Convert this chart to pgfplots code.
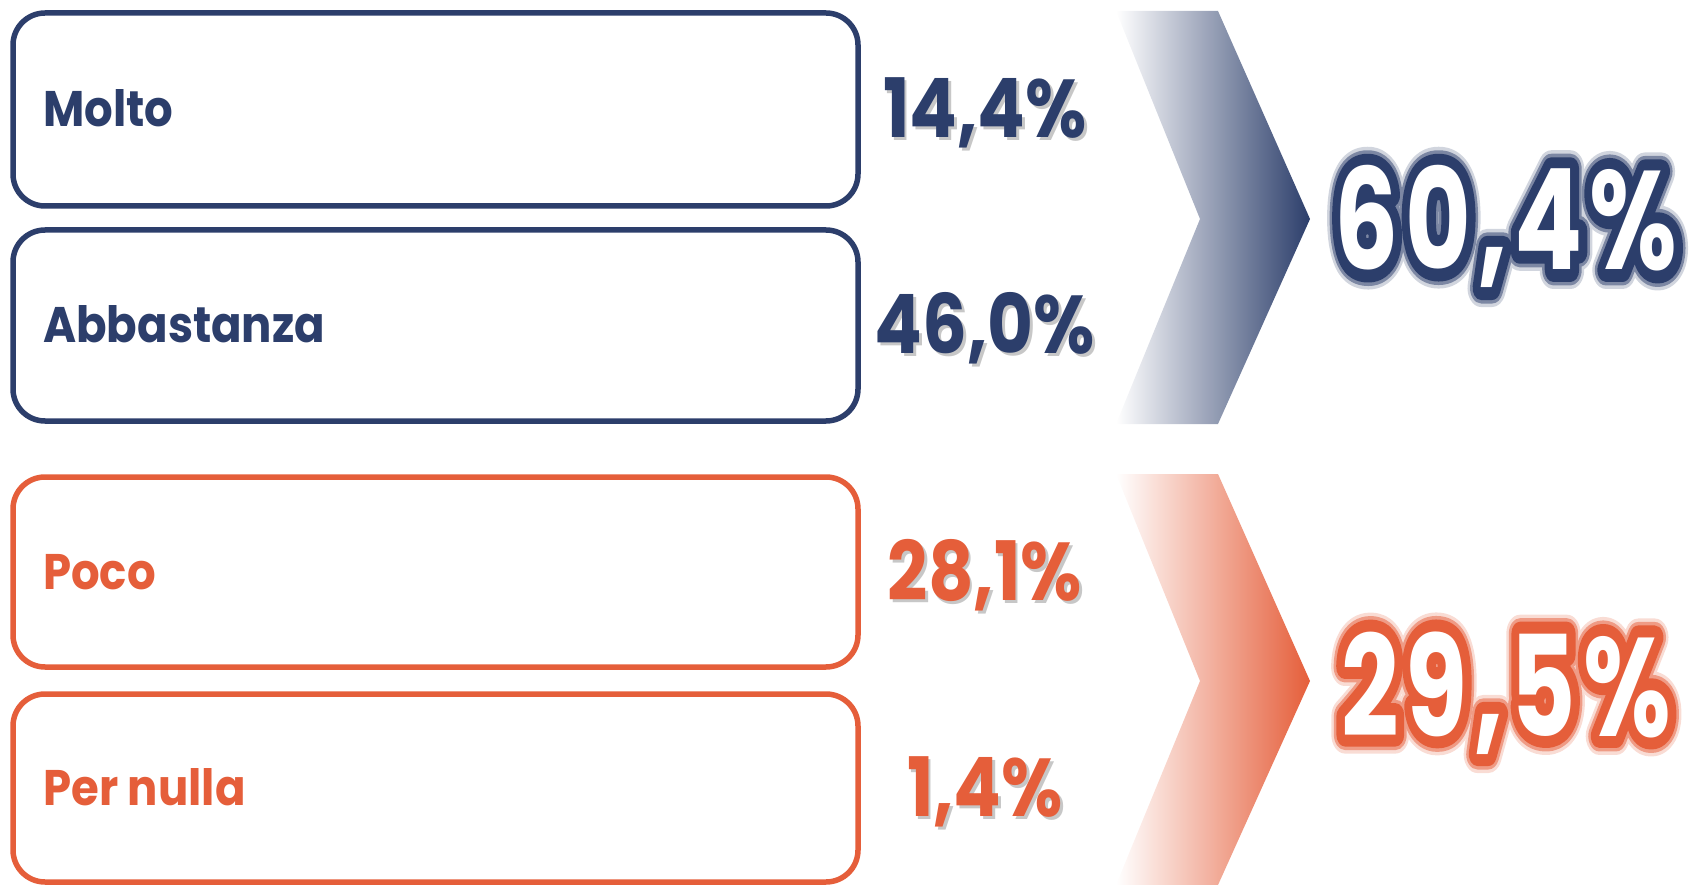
\documentclass[border=0pt]{standalone}
\usepackage{pgfplots}
\pgfplotsset{compat=1.18}
\usepackage{pgfplotstable}
\usepackage{graphicx}
\usepackage{fontspec}
\setmainfont{Poppins}
\newfontfamily\glowA{Poppins}[FakeBold=27]
\newfontfamily\glowB{Poppins}[FakeBold=22]
\newfontfamily\glowC{Poppins}[FakeBold=17]
\definecolor{navy}{HTML}{2C3E6B}
\definecolor{orng}{HTML}{E55E3A}

\pgfplotstableread[col sep=comma]{
y,val,lab
109.5,14.4,Molto
325.5,46.0,Abbastanza
}\topitems
\pgfplotstableread[col sep=comma]{
y,val,lab
572,28.1,Poco
788,1.4,Per nulla
}\botitems

\newcommand\shadowtext[2]{\rlap{\kern3pt\raisebox{-3pt}{\color{black!22}#2}}{\color{#1}#2}}
\newcommand\ls{\bfseries\addfontfeature{LetterSpace=7}}
\newcommand\glowtext[2]{%
  \special{pdf:code 1 j 1 J}%
  \rlap{\glowA\ls\color{#1!22!white}#2}%
  \rlap{\glowB\ls\color{#1!62!white}#2}%
  \rlap{\glowC\ls\color{#1}#2}%
  {\ls\color{white}#2}}
\newcommand\pct{\pgfmathprintnumber[fixed,fixed zerofill,precision=1,use comma,assume math mode=true]{\pgfplotspointmeta}\%}

\begin{document}
\begin{tikzpicture}
\begin{axis}[
  x=1pt, y=1pt, xmin=0, xmax=1690, ymin=0, ymax=885, y dir=reverse,
  hide axis, clip=false, scale only axis, enlargelimits=false]
\path (axis cs:0,0) (axis cs:1690,885);
% chevrons
\shade[left color=white, middle color=navy!22!white, right color=navy]
  (axis cs:1116,11) -- (axis cs:1218,11) -- (axis cs:1310,219) -- (axis cs:1218,424)
  -- (axis cs:1116,424) -- (axis cs:1200,219) -- cycle;
\shade[left color=white, middle color=orng!28!white, right color=orng]
  (axis cs:1116,474) -- (axis cs:1218,474) -- (axis cs:1310,681) -- (axis cs:1218,885)
  -- (axis cs:1116,885) -- (axis cs:1200,681) -- cycle;
% boxes
\draw[navy, line width=5.5pt, rounded corners=32pt] (axis cs:13,13) rectangle (axis cs:858,206);
\draw[navy, line width=5.5pt, rounded corners=32pt] (axis cs:13,230) rectangle (axis cs:858,421);
\draw[orng, line width=5.5pt, rounded corners=32pt] (axis cs:13,477) rectangle (axis cs:858,667);
\draw[orng, line width=5.5pt, rounded corners=32pt] (axis cs:13,694) rectangle (axis cs:858,882);
% labels
\addplot[draw=none, mark=none, point meta=explicit symbolic,
  nodes near coords={\scalebox{0.9}[1]{\pgfplotspointmeta}},
  nodes near coords style={anchor=base west, inner sep=0pt, text=navy,
    font=\fontsize{50}{50}\selectfont\bfseries}]
  table[x expr=43, y expr=\thisrow{y}+17.5, meta=lab]{\topitems};
\addplot[draw=none, mark=none, point meta=explicit symbolic,
  nodes near coords={\scalebox{0.9}[1]{\pgfplotspointmeta}},
  nodes near coords style={anchor=base west, inner sep=0pt, text=orng,
    font=\fontsize{50}{50}\selectfont\bfseries}]
  table[x expr=43, y expr=\thisrow{y}+17.5, meta=lab]{\botitems};
% values
\addplot[draw=none, mark=none, point meta=explicit,
  nodes near coords={\scalebox{0.86}[1]{\shadowtext{navy}{\pct}}},
  nodes near coords style={anchor=base, inner sep=0pt,
    font=\fontsize{82}{82}\selectfont\bfseries}]
  table[x expr=985, y expr=\thisrow{y}+28.5, meta=val]{\topitems};
\addplot[draw=none, mark=none, point meta=explicit,
  nodes near coords={\scalebox{0.86}[1]{\shadowtext{orng}{\pct}}},
  nodes near coords style={anchor=base, inner sep=0pt,
    font=\fontsize{82}{82}\selectfont\bfseries}]
  table[x expr=985, y expr=\thisrow{y}+28.5, meta=val]{\botitems};
% totals
\addplot[draw=none, mark=none, point meta=explicit,
  nodes near coords={\scalebox{0.72}[1]{\glowtext{navy}{\pct}}},
  nodes near coords style={anchor=base, inner sep=0pt,
    font=\fontsize{140}{140}\selectfont\bfseries}]
  coordinates {(1506,270) [60.4]};
\addplot[draw=none, mark=none, point meta=explicit,
  nodes near coords={\scalebox{0.72}[1]{\glowtext{orng}{\pct}}},
  nodes near coords style={anchor=base, inner sep=0pt,
    font=\fontsize{140}{140}\selectfont\bfseries}]
  coordinates {(1506,736) [29.5]};
\end{axis}
\end{tikzpicture}
\end{document}
